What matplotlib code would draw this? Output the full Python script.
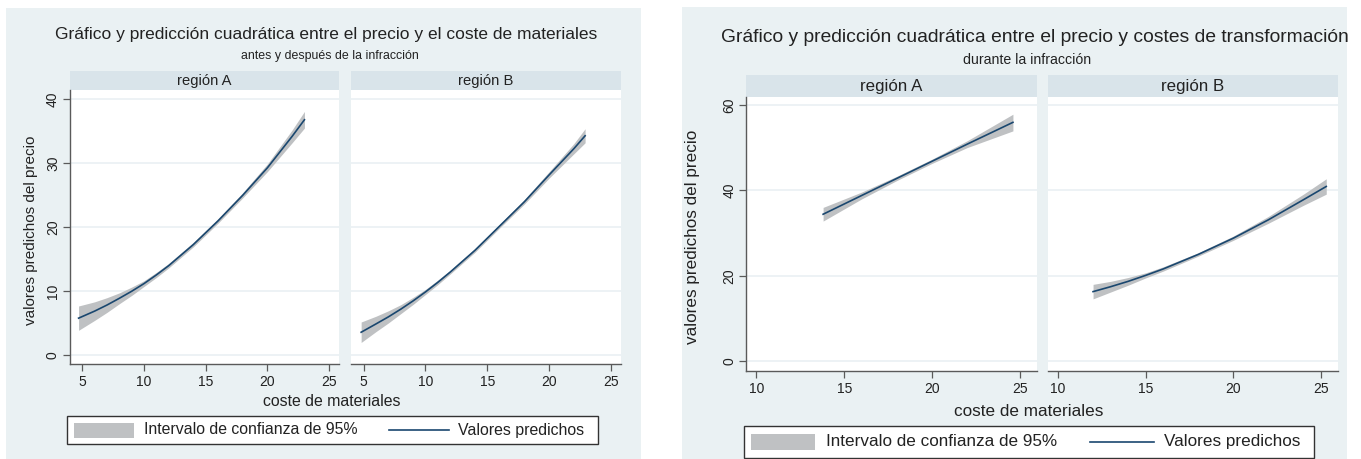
import matplotlib
matplotlib.use("Agg")
import matplotlib.pyplot as plt
from matplotlib.patches import Rectangle
import numpy as np

plt.rcParams['font.family'] = ['Liberation Sans', 'DejaVu Sans']

# ---------------- data ----------------
# Left chart: antes y después de la infracción
left_titles = ["Gráfico y predicción cuadrática entre el precio y el coste de materiales",
               "antes y después de la infracción"]
regions = ["región A", "región B"]
left_x_A = [4.7, 6, 7, 8, 9, 10, 11, 12, 14, 16, 18, 20, 22, 23.0]
left_y_A = [5.8, 6.9, 7.85, 8.9, 10.0, 11.2, 12.55, 14.0, 17.3, 21.0, 25.0, 29.3, 34.2, 36.8]
left_lo_A = [3.9, 5.45, 6.7, 8.05, 9.35, 10.75, 12.15, 13.65, 16.95, 20.65, 24.6, 28.7, 33.2, 35.5]
left_hi_A = [7.7, 8.35, 9.0, 9.75, 10.65, 11.65, 12.95, 14.35, 17.65, 21.35, 25.4, 29.9, 35.2, 38.1]
left_x_B = [4.8, 6, 7, 8, 9, 10, 11, 12, 14, 16, 18, 20, 22, 22.9]
left_y_B = [3.6, 4.9, 6.0, 7.2, 8.5, 9.9, 11.4, 13.0, 16.4, 20.2, 24.0, 28.2, 32.3, 34.3]
left_lo_B = [2.0, 3.7, 5.05, 6.5, 7.95, 9.5, 11.05, 12.7, 16.1, 19.9, 23.65, 27.7, 31.5, 33.2]
left_hi_B = [5.2, 6.1, 6.95, 7.9, 9.05, 10.3, 11.75, 13.3, 16.7, 20.5, 24.35, 28.7, 33.1, 35.4]
left_xticks = [5, 10, 15, 20, 25]
left_yticks = [0, 10, 20, 30, 40]

# Right chart: durante la infracción
right_titles = ["Gráfico y predicción cuadrática entre el precio y costes de transformación",
                "durante la infracción"]
right_x_A = [13.8, 16, 18, 20, 22, 24.6]
right_y_A = [34.4, 38.8, 42.8, 46.8, 50.8, 55.9]
right_lo_A = [32.8, 38.0, 42.3, 46.3, 50.0, 53.9]
right_hi_A = [36.0, 39.6, 43.3, 47.3, 51.6, 57.8]
right_x_B = [12.0, 13, 14, 15, 16, 18, 20, 22, 24, 25.3]
right_y_B = [16.3, 17.45, 18.7, 20.1, 21.6, 25.0, 28.8, 33.1, 37.8, 40.9]
right_lo_B = [14.6, 16.2, 17.8, 19.5, 21.1, 24.6, 28.3, 32.3, 36.5, 39.1]
right_hi_B = [18.0, 18.7, 19.6, 20.7, 22.1, 25.4, 29.3, 33.9, 39.1, 42.7]
right_xticks = [10, 15, 20, 25]
right_yticks = [0, 20, 40, 60]

xlabel = "coste de materiales"
ylabel = "valores predichos del precio"
leg_labels = ["Intervalo de confianza de 95%", "Valores predichos"]

# ---------------- style ----------------
W, H = 1361, 459
BG = '#EAF1F3'
STRIP = '#D9E4EA'
GRID = '#E8EFF2'
LINE = '#1A476F'
CI = '#BFC1C3'
TXT = '#222222'
AX = '#5A5A5A'

fig = plt.figure(figsize=(W / 100, H / 100), dpi=100)
fig.patch.set_facecolor('white')

# overlay axes in pixel coordinates for backgrounds, strips, text, legends
ov = fig.add_axes([0, 0, 1, 1], zorder=0)
ov.set_xlim(0, W)
ov.set_ylim(H, 0)
ov.axis('off')


def fr(x0, y0, x1, y1):
    return [x0 / W, 1 - y1 / H, (x1 - x0) / W, (y1 - y0) / H]


def chart(cfg):
    ov.add_patch(Rectangle((cfg['bg'][0], cfg['bg'][1]), cfg['bg'][2] - cfg['bg'][0],
                           cfg['bg'][3] - cfg['bg'][1], facecolor=BG, edgecolor='none', zorder=0))
    ov.text(cfg['title_pos'][0], cfg['title_pos'][1], cfg['titles'][0], ha='center', va='center',
            fontsize=cfg['fs_title'], color=TXT)
    ov.text(cfg['sub_pos'][0], cfg['sub_pos'][1], cfg['titles'][1], ha='center', va='center',
            fontsize=cfg['fs_sub'], color=TXT)
    ov.text(cfg['xl_pos'][0], cfg['xl_pos'][1], xlabel, ha='center', va='center',
            fontsize=cfg['fs_xl'], color=TXT)
    ov.text(cfg['yl_pos'][0], cfg['yl_pos'][1], ylabel, ha='center', va='center', rotation=90,
            fontsize=cfg['fs_yl'], color=TXT)
    data = cfg['data']
    for i, (px0, px1) in enumerate(cfg['panels']):
        # strip
        sy0, sy1 = cfg['strip_y']
        ov.add_patch(Rectangle((px0, sy0), px1 - px0, sy1 - sy0, facecolor=STRIP,
                               edgecolor='none', zorder=1))
        ov.text((px0 + px1) / 2, (sy0 + sy1) / 2 + 0.5, regions[i], ha='center', va='center',
                fontsize=cfg['fs_strip'], color=TXT, zorder=2)
        ax = fig.add_axes(fr(px0, cfg['panel_y'][0], px1, cfg['panel_y'][1]), zorder=2)
        ax.set_facecolor('white')
        x, y, lo, hi = data[i]
        ax.fill_between(x, lo, hi, color=CI, linewidth=0, zorder=2)
        ax.plot(x, y, color=LINE, lw=1.2, zorder=3)
        ax.set_xlim(*cfg['xlim'])
        ax.set_ylim(*cfg['ylim'])
        ax.set_xticks(cfg['xticks'])
        ax.set_yticks(cfg['yticks'])
        ax.grid(axis='y', color=GRID, lw=1.1, zorder=1)
        ax.set_axisbelow(True)
        for s in ['top', 'right']:
            ax.spines[s].set_visible(False)
        ax.spines['bottom'].set_color(AX)
        ax.spines['bottom'].set_linewidth(1.0)
        ax.tick_params(axis='x', length=5, width=0.9, color=AX, labelsize=cfg['fs_tick'],
                       labelcolor=TXT, pad=3)
        if i == 0:
            ax.spines['left'].set_color(AX)
            ax.spines['left'].set_linewidth(1.0)
            ax.tick_params(axis='y', length=5, width=0.9, color=AX, labelsize=cfg['fs_tick'],
                           labelcolor=TXT, pad=2, labelrotation=90)
            for t in ax.get_yticklabels():
                t.set_va('center')
        else:
            ax.spines['left'].set_visible(False)
            ax.tick_params(axis='y', length=0, labelleft=False)
    # legend
    lx0, ly0, lx1, ly1 = cfg['leg_box']
    ov.add_patch(Rectangle((lx0, ly0), lx1 - lx0, ly1 - ly0, facecolor='white',
                           edgecolor='#333333', lw=1.0, zorder=1))
    pxa, pya, pxb, pyb = cfg['leg_patch']
    ov.add_patch(Rectangle((pxa, pya), pxb - pxa, pyb - pya, facecolor=CI, edgecolor='none', zorder=2))
    cy = (ly0 + ly1) / 2
    ov.text(cfg['leg_t1'], cy, leg_labels[0], ha='left', va='center', fontsize=cfg['fs_leg'],
            color=TXT, zorder=3)
    ov.plot(cfg['leg_line'], [cy, cy], color=LINE, lw=1.2, zorder=3)
    ov.text(cfg['leg_t2'], cy, leg_labels[1], ha='left', va='center', fontsize=cfg['fs_leg'],
            color=TXT, zorder=3)


left_cfg = dict(
    bg=(6.5, 8, 641, 458.5), titles=left_titles,
    title_pos=(326, 35), sub_pos=(330, 56), xl_pos=(332, 401.5), yl_pos=(31, 230),
    panels=[(69.7, 339), (351, 621)], strip_y=(71, 90), panel_y=(90, 364.3),
    xlim=(3.98, 25.8), ylim=(-1.41, 41.45), xticks=left_xticks, yticks=left_yticks,
    data=[(left_x_A, left_y_A, left_lo_A, left_hi_A), (left_x_B, left_y_B, left_lo_B, left_hi_B)],
    leg_box=(66.7, 415.7, 598.5, 444.3), leg_patch=(74, 422.7, 134, 438),
    leg_t1=144, leg_line=[389, 449], leg_t2=458,
    fs_title=12.5, fs_sub=8.9, fs_strip=10.6, fs_tick=10, fs_xl=11.4, fs_yl=11.0, fs_leg=11.4,
)

right_cfg = dict(
    bg=(682, 7, 1347, 459), titles=right_titles,
    title_pos=(1035, 37.3), sub_pos=(1027, 60), xl_pos=(1028.7, 411), yl_pos=(693, 236.7),
    panels=[(746.3, 1037), (1048, 1338)], strip_y=(75, 97), panel_y=(97, 370.7),
    xlim=(9.43, 25.97), ylim=(-2.2, 61.83), xticks=right_xticks, yticks=right_yticks,
    data=[(right_x_A, right_y_A, right_lo_A, right_hi_A), (right_x_B, right_y_B, right_lo_B, right_hi_B)],
    leg_box=(744.5, 426, 1314, 457.7), leg_patch=(751, 434, 815, 450),
    leg_t1=826, leg_line=[1090, 1154], leg_t2=1164,
    fs_title=13.9, fs_sub=10.2, fs_strip=12.2, fs_tick=10, fs_xl=12.3, fs_yl=12.3, fs_leg=12.3,
)

chart(left_cfg)
chart(right_cfg)

fig.savefig('out.png', dpi=100, facecolor='white')
